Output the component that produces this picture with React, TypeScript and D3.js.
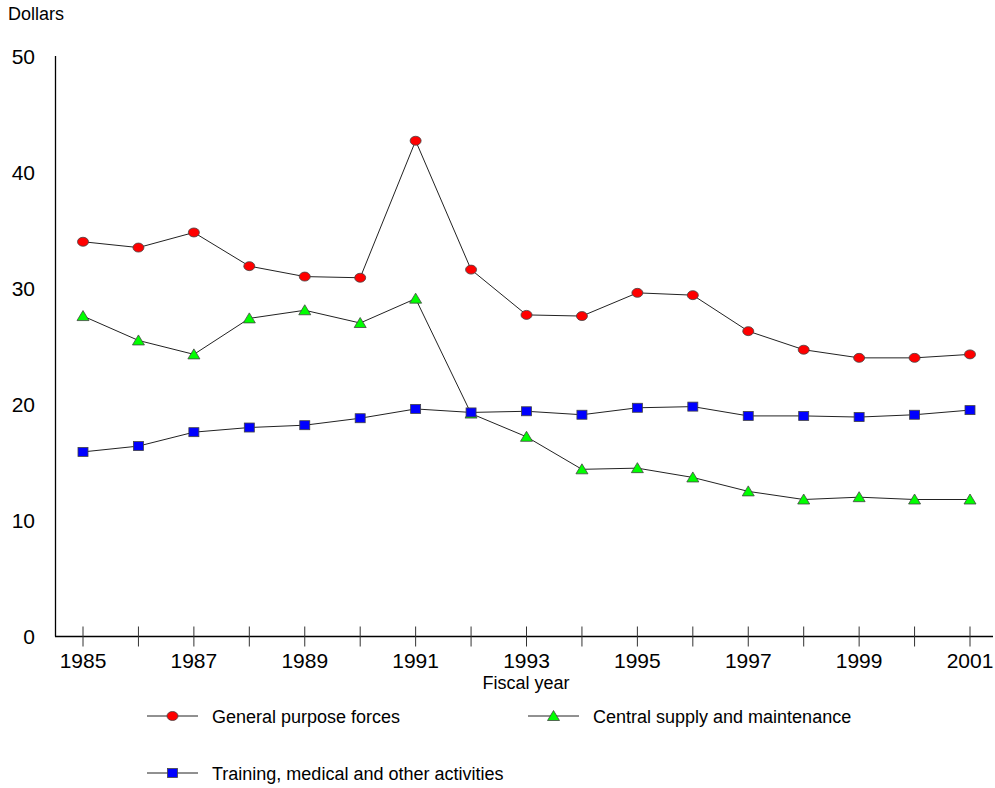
import React, { useEffect, useRef } from 'react';
import * as d3 from 'd3';

const years = [1985, 1986, 1987, 1988, 1989, 1990, 1991, 1992, 1993, 1994, 1995, 1996, 1997, 1998, 1999, 2000, 2001];
const generalPurpose = [34.0, 33.5, 34.8, 31.9, 31.0, 30.9, 42.7, 31.6, 27.7, 27.6, 29.6, 29.4, 26.3, 24.7, 24.0, 24.0, 24.3];
const centralSupply = [27.6, 25.5, 24.3, 27.4, 28.1, 27.0, 29.1, 19.2, 17.2, 14.4, 14.5, 13.7, 12.5, 11.8, 12.0, 11.8, 11.8];
const training = [15.9, 16.4, 17.6, 18.0, 18.2, 18.8, 19.6, 19.3, 19.4, 19.1, 19.7, 19.8, 19.0, 19.0, 18.9, 19.1, 19.5];
const yTicks = [0, 10, 20, 30, 40, 50];
const xLabels = [1985, 1987, 1989, 1991, 1993, 1995, 1997, 1999, 2001];

const series = [
  { name: 'General purpose forces', values: generalPurpose, marker: 'circle', color: '#ff0000' },
  { name: 'Central supply and maintenance', values: centralSupply, marker: 'triangle', color: '#00ff00' },
  { name: 'Training, medical and other activities', values: training, marker: 'square', color: '#0000ff' },
];

const App: React.FC = () => {
  const ref = useRef<SVGSVGElement | null>(null);

  useEffect(() => {
    if (!ref.current) return;
    const svg = d3.select(ref.current);
    svg.selectAll('*').remove();
    const font = 'Arial, "Liberation Sans", sans-serif';

    const x = d3.scaleLinear().domain([1985, 2001]).range([83, 970]);
    const y = d3.scaleLinear().domain([0, 50]).range([636.5, 56]);

    // axes
    svg.append('line')
      .attr('x1', 55.5).attr('x2', 55.5).attr('y1', 56).attr('y2', 636.5)
      .attr('stroke', '#000').attr('stroke-width', 1.3);
    svg.append('line')
      .attr('x1', 55).attr('x2', 993).attr('y1', 636.5).attr('y2', 636.5)
      .attr('stroke', '#000').attr('stroke-width', 1.3);

    svg.selectAll('.xtick')
      .data(years)
      .enter().append('line')
      .attr('x1', d => x(d)).attr('x2', d => x(d))
      .attr('y1', 626.5).attr('y2', 646.5)
      .attr('stroke', '#333').attr('stroke-width', 1);

    svg.selectAll('.xlabel')
      .data(xLabels)
      .enter().append('text')
      .attr('x', d => x(d)).attr('y', 668)
      .attr('text-anchor', 'middle')
      .style('font-family', font).style('font-size', '21px')
      .text(d => d);

    svg.selectAll('.ylabel')
      .data(yTicks)
      .enter().append('text')
      .attr('x', 35).attr('y', d => y(d) + 7.5)
      .attr('text-anchor', 'end')
      .style('font-family', font).style('font-size', '21px')
      .text(d => d);

    svg.append('text')
      .attr('x', 8).attr('y', 20)
      .style('font-family', font).style('font-size', '18px')
      .text('Dollars');

    svg.append('text')
      .attr('x', 526).attr('y', 689)
      .attr('text-anchor', 'middle')
      .style('font-family', font).style('font-size', '18px')
      .text('Fiscal year');

    const drawMarker = (g: any, kind: string, color: string, cx: number, cy: number) => {
      if (kind === 'circle') {
        g.append('ellipse').attr('cx', cx).attr('cy', cy).attr('rx', 5.5).attr('ry', 4.5)
          .attr('fill', color).attr('stroke', '#444').attr('stroke-width', 0.8);
      } else if (kind === 'triangle') {
        g.append('path')
          .attr('d', `M${cx},${cy - 5.5}L${cx + 6},${cy + 4.5}L${cx - 6},${cy + 4.5}Z`)
          .attr('fill', color).attr('stroke', '#444').attr('stroke-width', 0.8);
      } else {
        g.append('rect').attr('x', cx - 5).attr('y', cy - 4.5).attr('width', 10).attr('height', 9)
          .attr('fill', color).attr('stroke', '#444').attr('stroke-width', 0.8);
      }
    };

    const line = d3.line<number>()
      .x((_, i) => x(years[i]))
      .y(d => y(d));

    series.forEach(s => {
      const g = svg.append('g');
      g.append('path')
        .attr('d', line(s.values))
        .attr('fill', 'none').attr('stroke', '#222').attr('stroke-width', 1);
      s.values.forEach((v, i) => drawMarker(g, s.marker, s.color, x(years[i]), y(v)));
    });

    // legend
    const legendPos = [
      { lx: 147, ly: 716 },
      { lx: 528, ly: 716 },
      { lx: 147, ly: 773 },
    ];
    series.forEach((s, i) => {
      const { lx, ly } = legendPos[i];
      const g = svg.append('g');
      g.append('line').attr('x1', lx).attr('x2', lx + 51).attr('y1', ly).attr('y2', ly)
        .attr('stroke', '#222').attr('stroke-width', 1);
      drawMarker(g, s.marker, s.color, lx + 25.5, ly);
      g.append('text')
        .attr('x', lx + 65).attr('y', ly + 6.5)
        .style('font-family', font).style('font-size', '18px')
        .text(s.name);
    });
  }, []);

  return <svg ref={ref} width={995} height={788} style={{ position: 'absolute', left: 0, top: 0, background: '#fff' }} />;
};

export default App;
